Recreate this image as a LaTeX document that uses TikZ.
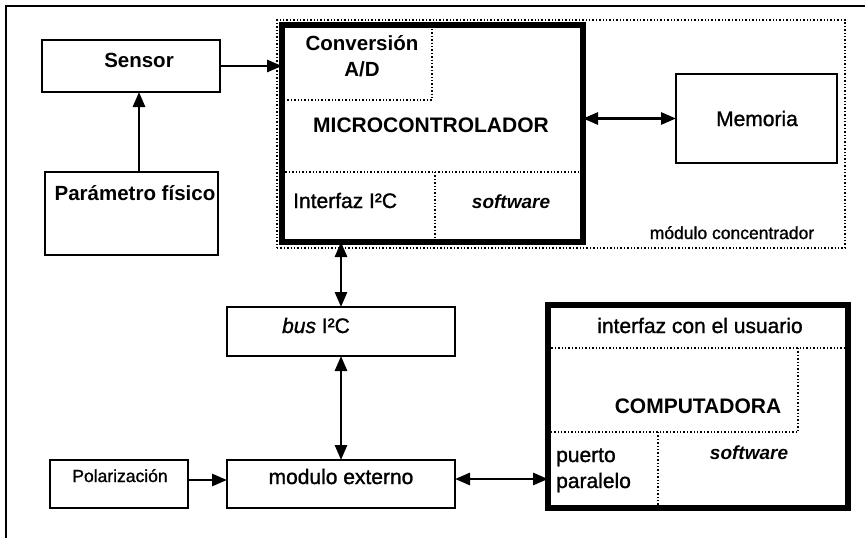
\documentclass[tikz,border=0pt]{standalone}
\usepackage{fontspec}
\setmainfont{Liberation Sans}
\newfontface\medfont{Liberation Sans}[FakeBold=1.2]
\newfontface\medital{Liberation Sans Italic}[FakeBold=1.2]
\usetikzlibrary{arrows.meta,calc}
\tikzset{
  box/.style={draw, line width=2.8pt, inner sep=0pt, outer sep=0pt},
  thickbox/.style={draw, line width=5.5pt, inner sep=0pt, outer sep=0pt},
  dotbox/.style={draw, line width=2pt, dash pattern=on 1.4pt off 2pt, inner sep=0pt, outer sep=0pt},
  dotline/.style={line width=1.8pt, dash pattern=on 1.4pt off 2pt},
  tip/.tip={Triangle[length=15pt,width=12pt]},
  arr/.style={line width=2.8pt, -tip},
  darr/.style={line width=2.8pt, tip-tip},
  lbl/.style={anchor=base, inner sep=0pt, font=\fontsize{21}{23}\medfont},
  blbl/.style={lbl, font=\fontsize{20.5}{23}\selectfont\bfseries},
  slbl/.style={lbl, font=\fontsize{17.5}{19}\medfont},
  ilbl/.style={lbl, font=\fontsize{19}{21}\selectfont\bfseries\itshape},
}
\begin{document}
\begin{tikzpicture}[x=1pt,y=-1pt]
\useasboundingbox (0,0) rectangle (865,538);
\fill[white] (0,0) rectangle (865,538);
\clip (0,0) rectangle (865,538);
% outer frame
\draw[line width=2.8pt] (6,560) -- (6,6) -- (890,6);

% boxes
\node[box, minimum width=178, minimum height=52] (sensor) at (131,66) {};
\node[box, minimum width=173, minimum height=83] (param) at (131.5,213.5) {};
\node[dotbox, minimum width=568, minimum height=228] (modconc) at (561,134) {};
\node[thickbox, minimum width=301, minimum height=217] (micro) at (432.5,133.5) {};
\node[box, minimum width=161, minimum height=89] (memoria) at (756.5,118.5) {};
\node[box, minimum width=228, minimum height=49] (bus) at (341,331.5) {};
\node[box, minimum width=228, minimum height=48] (modext) at (341,484) {};
\node[box, minimum width=138, minimum height=48] (polar) at (119,484) {};
\node[thickbox, minimum width=300, minimum height=203] (comp) at (698,406.5) {};

% internal dotted divisions (microcontrolador)
\coordinate (convbr) at (432,100);
\draw[dotline] (convbr |- micro.north) ++(0,4) -- (convbr) -- (convbr -| micro.west);
\coordinate (mdiv) at (435,172);
\draw[dotline] (mdiv -| micro.west) -- (mdiv -| micro.east);
\draw[dotline] (mdiv) -- (mdiv |- micro.south);

% internal dotted divisions (computadora)
\coordinate (cdiv1) at (798,348);
\coordinate (cdiv2) at (658,432);
\draw[dotline] (cdiv1 -| comp.west) -- (cdiv1 -| comp.east);
\draw[dotline] (cdiv1) -- (cdiv1 |- cdiv2) -- (cdiv2 -| comp.west);
\draw[dotline] (cdiv2) -- (cdiv2 |- comp.south);

% texts
\node[blbl] (tsensor) at (139,67) {Sensor};
\node[blbl] (tparam) at (135,200) {Parámetro físico};
\node[blbl] (tconv1) at (362,50) {Conversión};
\node[blbl] (tconv2) at (362,76) {A/D};
\node[lbl, font=\fontsize{21}{23}\selectfont\bfseries] (tmicro) at (431,132) {MICROCONTROLADOR};
\node[lbl, anchor=base west] (ti2c) at (293,208) {Interfaz I²C};
\node[ilbl] (tsoft1) at (511,208) {software};
\node[lbl] (tmem) at (757,126) {Memoria};
\node[slbl] (tmodc) at (732,239) {módulo concentrador};
\node[lbl] (tbus) at (316,333) {{\medital bus} I²C};
\node[lbl] (tmodext) at (341,484) {modulo externo};
\node[slbl] (tpolar) at (120,482) {Polarización};
\node[lbl] (tuser) at (700,333) {interfaz con el usuario};
\node[lbl, font=\fontsize{21}{23}\selectfont\bfseries] (tcomp) at (698,413) {COMPUTADORA};
\node[lbl, anchor=base west] (tpuerto) at (556,462) {puerto};
\node[lbl, anchor=base west] (tparalelo) at (556,488) {paralelo};
\node[ilbl] (tsoft2) at (749,459) {software};

% connectors
\draw[arr] (param.north -| tsensor) -- (sensor.south -| tsensor);
\draw[arr] (sensor.east) -- (sensor.east -| micro.west);
\draw[darr] (memoria.west -| micro.east) -- (memoria.west);
\draw[darr] (bus.north |- micro.south) -- (bus.north);
\draw[darr] (bus.south) -- (modext.north);
\draw[arr] ([yshift=4pt]polar.east) -- ([yshift=4pt]modext.west);
\draw[darr] ([yshift=5pt]modext.east) -- ([yshift=5pt]modext.east -| comp.west);
\end{tikzpicture}
\end{document}
